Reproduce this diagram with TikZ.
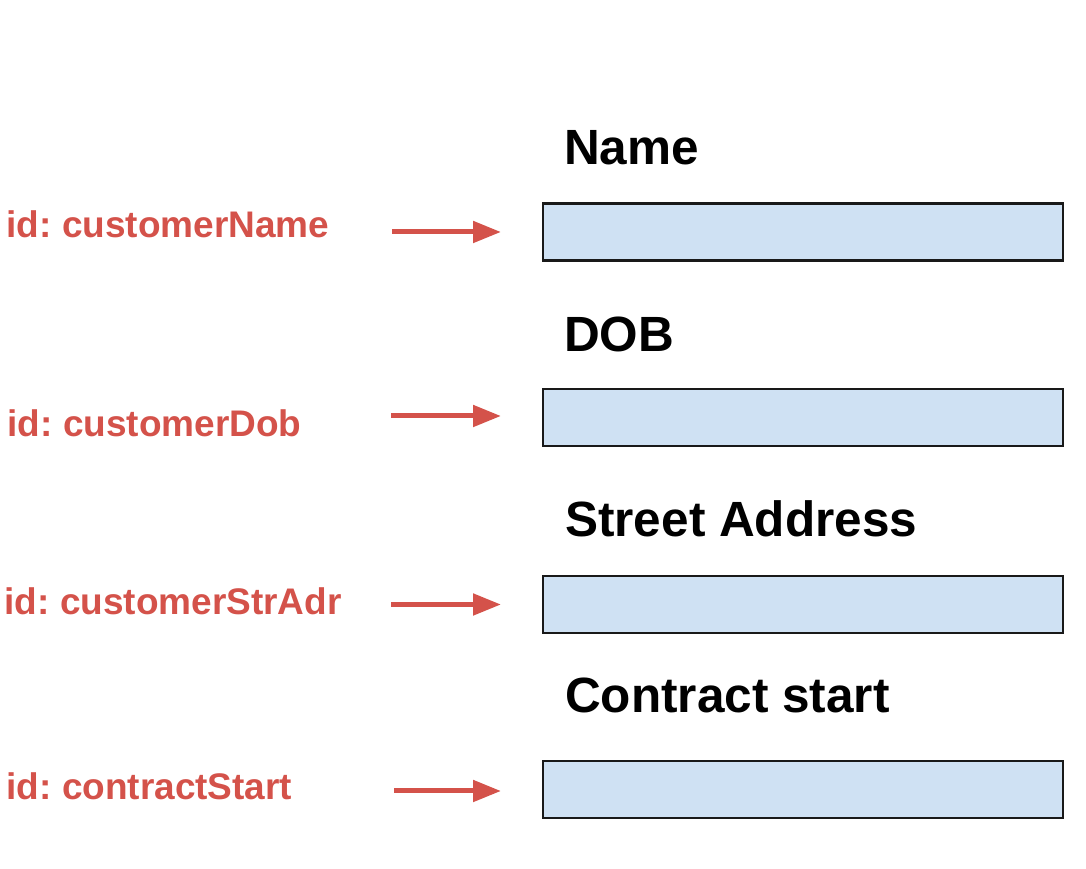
\documentclass[tikz,border=0pt]{standalone}
\usepackage{fontspec}
\setmainfont{Liberation Sans}
\newfontfamily\idfont[WordSpace=0.7]{Liberation Sans}
\usetikzlibrary{arrows.meta}
\definecolor{idred}{HTML}{D4524A}
\definecolor{fieldblue}{HTML}{CFE1F3}
\begin{document}
\begin{tikzpicture}[x=1pt, y=1pt,
  field/.style={draw=black!90, fill=fieldblue, line width=2.2pt, minimum width=520pt, minimum height=57pt, inner sep=0pt, anchor=west},
  heading/.style={font=\fontsize{49.5}{55}\selectfont\bfseries, anchor=base west, inner sep=0pt},
  idlabel/.style={font=\idfont\fontsize{37}{42}\selectfont\bfseries, text=idred, anchor=base west, inner sep=0pt},
  pointer/.style={draw=idred, line width=5pt, -{Triangle[length=28pt, width=21pt]}, shorten >=41pt}]
  \useasboundingbox (0,0) rectangle (1086,869);
  % headings and input fields
  \node[heading] (hName) at (564,704) {Name};
  \node[field] (fName) at (542,637) {};
  \node[heading] (hDob) at (564,517) {DOB};
  \node[field] (fDob) at (542,451.5) {};
  \node[heading] (hStr) at (565,332) {Street Address};
  \node[field] (fStr) at (542,264.5) {};
  \node[heading] (hStart) at (565,156) {Contract start};
  \node[field] (fStart) at (542,79.5) {};
  % element ids
  \node[idlabel] (idName) at (6,631) {id: customerName};
  \node[idlabel] (idDob) at (7,432) {id: customerDob};
  \node[idlabel] (idStr) at (4,254) {id: customerStrAdr};
  \node[idlabel] (idStart) at (6,69) {id: contractStart};
  \coordinate (pName) at (392,637);
  \coordinate (pDob) at (391,453);
  \coordinate (pStr) at (391,264.5);
  \coordinate (pStart) at (394,78);
  \draw[pointer] (pName) -- (pName -| fName.west);
  \draw[pointer] (pDob) -- (pDob -| fDob.west);
  \draw[pointer] (pStr) -- (pStr -| fStr.west);
  \draw[pointer] (pStart) -- (pStart -| fStart.west);
\end{tikzpicture}
\end{document}
